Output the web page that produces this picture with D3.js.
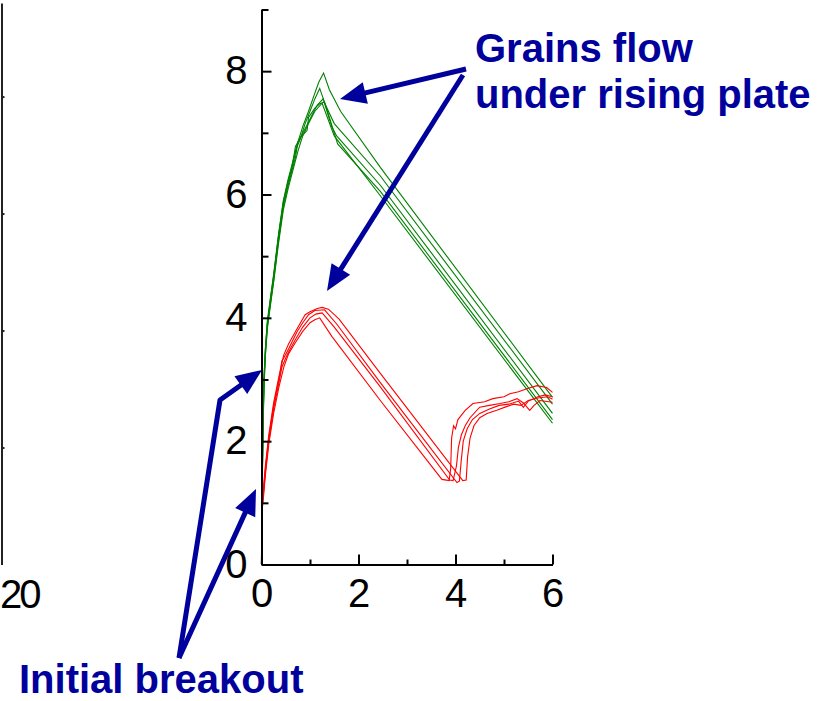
<!DOCTYPE html>
<html>
<head>
<meta charset="utf-8">
<script src="https://cdn.jsdelivr.net/npm/d3@7"></script>
<style>
  html, body { margin: 0; padding: 0; background: #fff; }
  svg { display: block; }
  text { font-family: "Liberation Sans", Arial, sans-serif; }
</style>
</head>
<body>
<script>
// Force traces (kN) over time (s): grains flowing under a rising plate.
const xTicks = [0, 2, 4, 6];
const xMinorTicks = [1, 3, 5];
const yTicks = [0, 2, 4, 6, 8];
const yMinorTicks = [1, 3, 5, 7, 9];
const leftPanelTickLabels = ["20"];
const leftPanelTicks = [1, 2, 3, 4];

// Upper family of runs (green)
const greenRun1 = [[0,0],[0.01,1.1],[0.03,2.3],[0.05,3.0],[0.08,3.5],[0.12,3.95],[0.18,4.3],[0.25,4.7],[0.35,5.35],[0.45,5.9],[0.55,6.25],[0.65,6.55],[0.75,6.85],[0.85,7.1],[0.97,7.35],[1.08,7.6],[1.18,7.82],[1.28,7.97],[1.4,7.7],[1.63,7.35],[2.45,6.44],[6,2.71]];
const greenRun2 = [[0,0],[0.01,1.0],[0.03,2.2],[0.05,2.95],[0.08,3.45],[0.12,3.9],[0.18,4.25],[0.25,4.65],[0.35,5.3],[0.45,5.85],[0.55,6.2],[0.65,6.5],[0.72,6.75],[0.8,6.9],[0.9,7.15],[1.0,7.35],[1.1,7.55],[1.2,7.72],[1.32,7.45],[1.5,7.15],[2.45,6.3],[6,2.6]];
const greenRun3 = [[0,0],[0.01,0.95],[0.03,2.15],[0.05,2.9],[0.08,3.4],[0.12,3.85],[0.18,4.2],[0.25,4.6],[0.35,5.25],[0.45,5.8],[0.55,6.15],[0.65,6.45],[0.7,6.6],[0.75,6.85],[0.82,6.95],[0.92,7.1],[1.05,7.3],[1.15,7.45],[1.27,7.55],[1.45,7.1],[1.55,6.95],[2.45,6.15],[6,2.45]];
const greenRun4 = [[0,0],[0.01,1.05],[0.03,2.25],[0.05,3.0],[0.08,3.5],[0.12,3.9],[0.18,4.28],[0.25,4.68],[0.35,5.32],[0.45,5.88],[0.55,6.22],[0.62,6.4],[0.7,6.78],[0.8,6.92],[0.94,7.04],[0.97,7.25],[1.1,7.4],[1.2,7.47],[1.3,7.5],[1.57,6.82],[2.45,6.05],[6,2.35]];
const greenRun5 = [[0,0],[0.01,0.9],[0.03,2.1],[0.05,2.85],[0.08,3.38],[0.12,3.82],[0.18,4.18],[0.25,4.58],[0.35,5.2],[0.45,5.75],[0.55,6.1],[0.65,6.4],[0.75,6.7],[0.85,6.95],[0.97,7.15],[1.1,7.35],[1.25,7.48],[1.5,6.95],[2.45,5.98],[6,2.29]];

// Lower family of runs (red)
const redRun1 = [[0,0],[0.005,0.85],[0.03,1.0],[0.08,1.45],[0.15,1.95],[0.25,2.45],[0.36,2.88],[0.46,3.2],[0.56,3.42],[0.7,3.6],[0.85,3.78],[1.0,3.92],[1.1,3.97],[1.2,4.0],[1.45,3.7],[2.45,2.66],[3.72,1.38],[3.87,1.36],[3.9,1.55],[3.92,2.05],[3.96,2.25],[4.0,2.2],[4.05,2.35],[4.2,2.5],[4.36,2.61],[4.6,2.64],[4.77,2.69],[5.0,2.72],[5.12,2.77],[5.3,2.8],[5.47,2.85],[5.68,2.9],[5.88,2.87],[6,2.79]];
const redRun2 = [[0,0],[0.005,0.9],[0.03,1.05],[0.08,1.5],[0.15,2.0],[0.25,2.52],[0.36,2.95],[0.42,3.2],[0.5,3.35],[0.56,3.45],[0.7,3.65],[0.85,3.85],[1.0,4.0],[1.12,4.06],[1.25,4.08],[1.5,3.85],[2.45,2.88],[3.88,1.37],[3.95,1.36],[4.02,1.6],[4.06,1.9],[4.12,2.1],[4.2,2.25],[4.3,2.38],[4.5,2.55],[4.7,2.58],[4.92,2.61],[5.1,2.64],[5.27,2.69],[5.4,2.62],[5.53,2.5],[5.62,2.58],[5.74,2.66],[6,2.63]];
const redRun3 = [[0,0],[0.005,0.95],[0.03,1.1],[0.08,1.55],[0.15,2.05],[0.25,2.58],[0.36,3.0],[0.42,3.3],[0.46,3.35],[0.56,3.5],[0.73,3.77],[0.85,3.92],[0.97,4.05],[1.1,4.12],[1.3,4.13],[1.55,3.9],[2.45,2.95],[4.03,1.33],[4.08,1.35],[4.12,1.7],[4.16,2.0],[4.24,2.2],[4.35,2.35],[4.5,2.45],[4.7,2.52],[4.9,2.58],[5.1,2.6],[5.3,2.65],[5.4,2.55],[5.5,2.65],[5.7,2.72],[5.85,2.75],[6,2.72]];
const redRun4 = [[0,0],[0.005,1.0],[0.03,1.15],[0.08,1.6],[0.15,2.1],[0.25,2.62],[0.36,3.05],[0.46,3.4],[0.56,3.58],[0.73,3.82],[0.9,4.05],[1.0,4.1],[1.15,4.15],[1.25,4.17],[1.38,4.14],[1.6,3.98],[2.45,3.1],[4.15,1.36],[4.22,1.37],[4.25,1.75],[4.3,2.05],[4.38,2.25],[4.5,2.38],[4.65,2.45],[4.85,2.5],[5.05,2.56],[5.2,2.6],[5.35,2.58],[5.5,2.66],[5.7,2.7],[5.9,2.72],[6,2.68]];

const greenRuns = [greenRun1, greenRun2, greenRun3, greenRun4, greenRun5];
const redRuns = [redRun1, redRun2, redRun3, redRun4];

const W = 830, H = 701;
const blue = "#00009c";
const fontSize = 40;

const svg = d3.select("body").append("svg")
  .attr("width", W).attr("height", H);

const x = d3.scaleLinear().domain([0, 6]).range([261.5, 552.5]);
const y = d3.scaleLinear().domain([0, 9]).range([564.5, 9.5]);

// neighbouring panel's right edge (only its frame and one label show)
const yLeft = d3.scaleLinear().domain([0, 4.8]).range([564.5, 3]);
const leftAxis = d3.axisRight(yLeft).tickValues(leftPanelTicks).tickSizeInner(3).tickSizeOuter(0).tickFormat("");
svg.append("g").attr("transform", "translate(1.5,0)").call(leftAxis)
  .call(g => g.select(".domain").attr("stroke-width", 2).attr("stroke", "#222"))
  .call(g => g.selectAll(".tick line").attr("stroke-width", 2).attr("stroke", "#222"));
svg.append("text").attr("x", 0).attr("y", 608).attr("text-anchor", "start")
  .attr("letter-spacing", -3)
  .attr("font-size", fontSize).attr("fill", "#000").text(leftPanelTickLabels[0]);

// curves
const line = d3.line().x(d => x(d[0])).y(d => y(d[1]));
svg.append("g").selectAll("path").data(greenRuns).join("path")
  .attr("d", line).attr("fill", "none").attr("stroke", "#008000").attr("stroke-width", 1.1);
svg.append("g").selectAll("path").data(redRuns).join("path")
  .attr("d", line).attr("fill", "none").attr("stroke", "#ff0000").attr("stroke-width", 1.1);

// axes
function styleAxis(g) {
  g.select(".domain").attr("stroke-width", 2).attr("stroke", "#000");
  g.selectAll(".tick line").attr("stroke-width", 2).attr("stroke", "#000");
  g.selectAll(".tick text").attr("font-size", fontSize).attr("fill", "#000")
    .attr("font-family", "Liberation Sans, Arial, sans-serif");
}
const xAxis = d3.axisBottom(x).tickValues(xTicks).tickSizeInner(-10).tickSizeOuter(0).tickPadding(14).tickFormat(d3.format("d"));
svg.append("g").attr("transform", `translate(0,${y(0)})`).call(xAxis).call(styleAxis);
const xMinor = d3.axisBottom(x).tickValues(xMinorTicks).tickSizeInner(-5).tickSizeOuter(0).tickFormat("");
svg.append("g").attr("transform", `translate(0,${y(0)})`).call(xMinor).call(styleAxis);

const yAxis = d3.axisLeft(y).tickValues(yTicks).tickSizeInner(-10).tickSizeOuter(0).tickPadding(14).tickFormat(d3.format("d"));
svg.append("g").attr("transform", `translate(${x(0)},0)`).call(yAxis).call(styleAxis);
const yMinor = d3.axisLeft(y).tickValues(yMinorTicks).tickSizeInner(-7).tickSizeOuter(0).tickFormat("");
svg.append("g").attr("transform", `translate(${x(0)},0)`).call(yMinor).call(styleAxis);

// annotation arrows
function arrow(points) {
  const n = points.length;
  const [tx, ty] = points[n - 1];
  const [px, py] = points[n - 2];
  const ang = Math.atan2(ty - py, tx - px);
  const len = 26, half = 11;
  const bx = tx - len * Math.cos(ang), by = ty - len * Math.sin(ang);
  const shaft = points.slice(0, n - 1).concat([[bx + 2 * Math.cos(ang), by + 2 * Math.sin(ang)]]);
  svg.append("path").attr("d", d3.line()(shaft))
    .attr("fill", "none").attr("stroke", blue).attr("stroke-width", 5)
    .attr("stroke-linejoin", "round");
  const nx = -Math.sin(ang), ny = Math.cos(ang);
  svg.append("path")
    .attr("d", d3.line()([[tx, ty], [bx + half * nx, by + half * ny], [bx - half * nx, by - half * ny]]) + "Z")
    .attr("fill", blue);
}
arrow([[466, 69], [340, 99]]);
arrow([[463, 75], [327, 291]]);
arrow([[179, 658], [220, 400], [262, 370]]);
arrow([[179, 658], [256, 489]]);

// annotation text
const label = svg.append("g").attr("fill", blue).attr("font-weight", "bold").attr("font-size", 40);
label.append("text").attr("x", 475).attr("y", 62).text("Grains flow");
label.append("text").attr("x", 475).attr("y", 108).text("under rising plate");
label.append("text").attr("x", 19).attr("y", 693).text("Initial breakout");
</script>
</body>
</html>
